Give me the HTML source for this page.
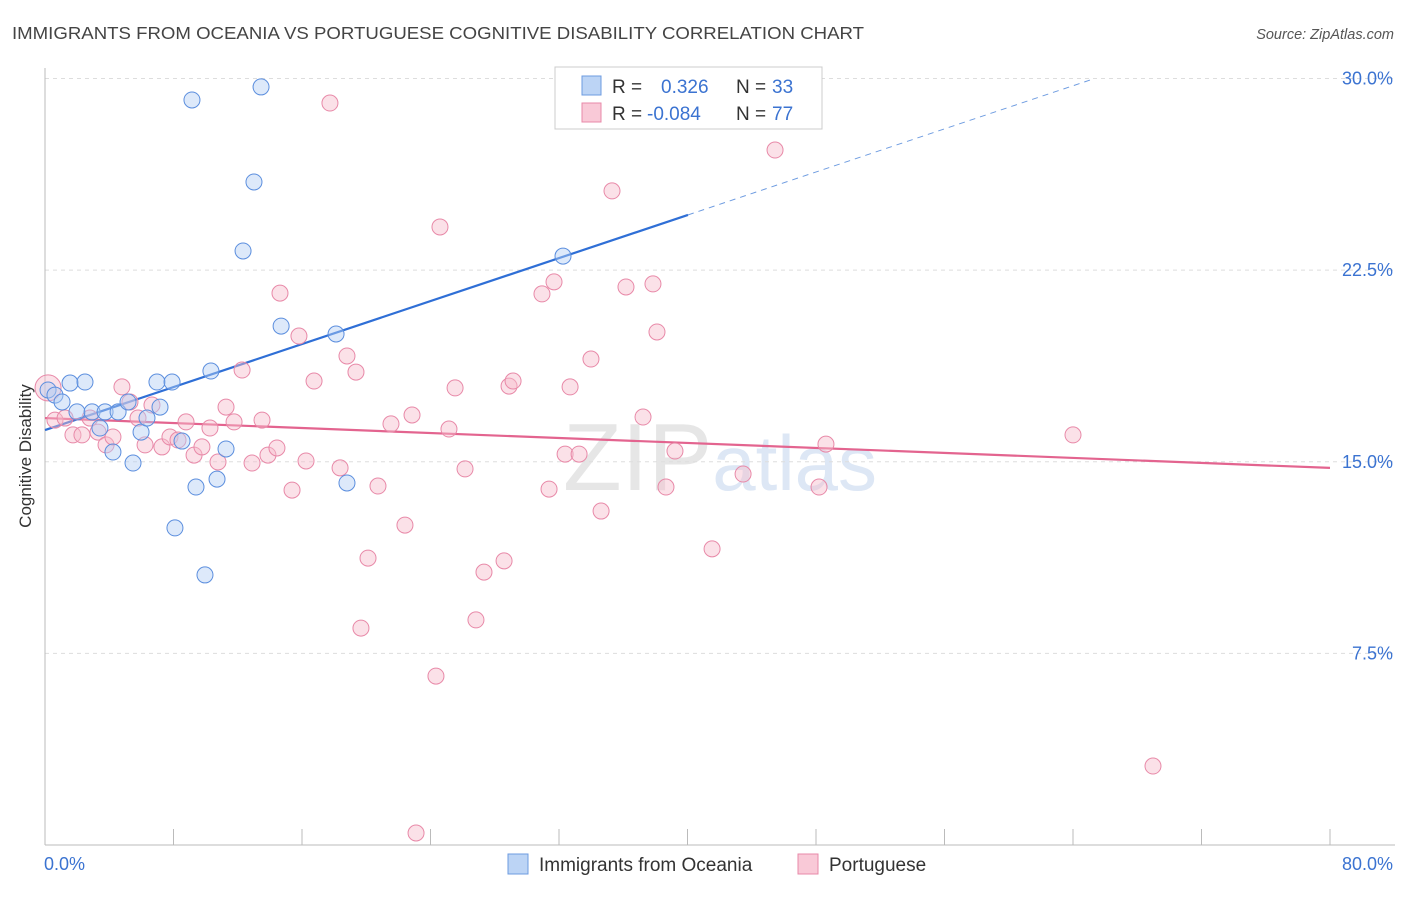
<!DOCTYPE html>
<html><head><meta charset="utf-8"><style>
body{margin:0;background:#fff;font-family:"Liberation Sans",sans-serif;}
svg text{font-family:"Liberation Sans",sans-serif;}
</style></head><body>
<svg id="chart" width="1406" height="892" viewBox="0 0 1406 892" xmlns="http://www.w3.org/2000/svg">
<text x="12" y="39" font-size="17.5" fill="#444" textLength="852" lengthAdjust="spacingAndGlyphs">IMMIGRANTS FROM OCEANIA VS PORTUGUESE COGNITIVE DISABILITY CORRELATION CHART</text>
<text x="1394" y="39" font-size="14.5" fill="#555" text-anchor="end" font-style="italic">Source: ZipAtlas.com</text>
<text x="720" y="490" font-size="96" fill="#e6e6e6" text-anchor="middle" font-family="Liberation Serif"><tspan>ZIP</tspan><tspan fill="#dde7f5" font-family="Liberation Sans" font-size="78">atlas</tspan></text>
<g id="grid"></g>
<g id="axes"></g>
<g id="lines"></g>
<g id="points"></g>
<text transform="translate(31,456) rotate(-90)" font-size="17" fill="#333" text-anchor="middle">Cognitive Disability</text>
<g>
<rect x="555" y="67" width="267" height="62" fill="#fff" stroke="#ccc"/>
<rect x="582" y="76" width="19" height="19" fill="#bcd4f5" stroke="#6d9be0"/>
<rect x="582" y="103" width="19" height="19" fill="#f9c9d7" stroke="#e889a8"/>
<text x="612" y="93" font-size="19" fill="#333">R =</text>
<text x="661" y="93" font-size="19" fill="#3b73d1">0.326</text>
<text x="736" y="93" font-size="19" fill="#333">N =</text>
<text x="772" y="93" font-size="19" fill="#3b73d1">33</text>
<text x="612" y="120" font-size="19" fill="#333">R =</text>
<text x="647" y="120" font-size="19" fill="#3b73d1">-0.084</text>
<text x="736" y="120" font-size="19" fill="#333">N =</text>
<text x="772" y="120" font-size="19" fill="#3b73d1">77</text>
</g>
<g>
<rect x="508" y="854" width="20" height="20" fill="#bcd4f5" stroke="#6d9be0"/>
<text x="539" y="871" font-size="19" fill="#333">Immigrants from Oceania</text>
<rect x="798" y="854" width="20" height="20" fill="#f9c9d7" stroke="#e889a8"/>
<text x="829" y="871" font-size="19" fill="#333">Portuguese</text>
</g>
</svg>
<script>
const yTicks=[7.5,15,22.5,30];
const yTickLabels=["7.5%","15.0%","22.5%","30.0%"];
const xTicks=[0,8,16,24,32,40,48,56,64,72,80];
const xEndLabels=["0.0%","80.0%"];
const blueX=[0.19,0.62,1.06,1.56,2.49,1.99,2.93,3.42,3.74,4.23,4.55,5.48,5.17,5.98,6.35,6.97,7.16,7.91,8.09,8.53,9.15,9.40,9.96,10.33,10.71,11.27,12.33,13.01,13.45,14.70,18.12,18.80,32.25];
const blueY=[17.81,17.61,17.34,18.08,18.12,16.95,16.95,16.32,16.95,15.38,16.95,14.95,17.34,16.16,16.71,18.12,17.14,18.12,12.41,15.81,29.16,14.01,10.57,18.55,14.32,15.5,23.25,25.95,29.67,20.31,20.0,14.17,23.05];
const pinkX=[0.19,0.62,1.25,1.74,2.30,2.80,3.30,3.80,4.23,4.79,5.29,5.79,6.23,6.66,7.28,7.78,8.28,8.78,9.28,9.77,10.27,10.77,11.27,11.77,12.27,12.89,13.51,13.88,14.44,14.63,15.38,15.81,16.25,16.75,17.74,18.37,18.80,19.36,20.11,19.67,20.73,21.54,22.41,22.85,23.10,24.34,24.59,25.15,25.53,26.15,26.83,27.33,28.58,28.89,29.14,30.94,31.38,31.69,32.38,32.69,33.25,33.99,34.62,35.30,36.17,37.23,37.85,38.10,38.66,39.22,41.53,43.46,45.45,48.19,48.62,64.00,68.98];
const pinkY=[17.89,16.63,16.71,16.05,16.05,16.71,16.16,15.66,15.97,17.93,17.34,16.71,15.66,17.22,15.58,15.97,15.85,16.56,15.26,15.58,16.32,14.99,17.14,16.56,18.59,14.95,16.63,15.26,15.54,21.60,13.89,19.92,15.03,18.16,29.04,14.76,19.14,18.51,11.23,8.49,14.05,16.48,12.52,16.83,0.47,6.61,24.19,16.28,17.89,14.72,8.81,10.68,11.12,17.96,18.16,21.57,13.93,22.04,15.30,17.93,15.30,19.02,13.07,25.60,21.84,16.75,21.96,20.08,14.01,15.42,11.59,14.52,27.20,14.01,15.69,16.05,3.09];
const blueTrendX=[0,40.03,65.06];
const blueTrendY=[16.24,24.66,29.94];
const pinkTrendX=[0,80];
const pinkTrendY=[16.71,14.76];

const NS="http://www.w3.org/2000/svg";
const X0=45,X1=1330,Y0=845,YS=25.55;
function sx(v){return X0+v/80*(X1-X0);}
function sy(v){return Y0-v*YS;}
function mk(tag,attrs,parent){const e=document.createElementNS(NS,tag);for(const k in attrs)e.setAttribute(k,attrs[k]);parent.appendChild(e);return e;}
const grid=document.getElementById('grid'),axes=document.getElementById('axes'),lines=document.getElementById('lines'),pts=document.getElementById('points');
yTicks.forEach((t,i)=>{
 const l=mk('line',{x1:X0,x2:1395,y1:sy(t),y2:sy(t),stroke:'#ddd','stroke-dasharray':'4,4'},grid);
 
 
 const tx=mk('text',{x:1393,y:sy(t)+6,'font-size':18,fill:'#3b73d1','text-anchor':'end'},grid);
 tx.textContent=yTickLabels[i];
 
 
});
const ax=mk('line',{x1:X0,x2:X0,y1:68,y2:Y0,stroke:'#bbb'},axes);


const bx=mk('line',{x1:X0,x2:1395,y1:Y0,y2:Y0,stroke:'#bbb'},axes);


xTicks.forEach(t=>{
 const l=mk('line',{x1:sx(t),x2:sx(t),y1:829,y2:Y0,stroke:'#bbb'},axes);
 
 
});
const xl0=mk('text',{x:44,y:870,'font-size':18,fill:'#3b73d1'},axes);xl0.textContent=xEndLabels[0];


const xl1=mk('text',{x:1393,y:870,'font-size':18,fill:'#3b73d1','text-anchor':'end'},axes);xl1.textContent=xEndLabels[1];


function dot(x,y,fill,stroke,name,r){const c=mk('circle',{cx:sx(x),cy:sy(y),r:r||8,fill:fill,'fill-opacity':0.45,stroke:stroke,'stroke-width':1},pts);
 
 }
pinkX.forEach((x,i)=>dot(x,pinkY[i],'#f6bccd','#e889a8','portuguese-point',i==0?13:8));
blueX.forEach((x,i)=>dot(x,blueY[i],'#b3cff3','#5b8ede','oceania-point',8));
const b1=mk('line',{x1:sx(blueTrendX[0]),y1:sy(blueTrendY[0]),x2:sx(blueTrendX[1]),y2:sy(blueTrendY[1]),stroke:'#2f6fd6','stroke-width':2.2},lines);


const b2=mk('line',{x1:sx(blueTrendX[1]),y1:sy(blueTrendY[1]),x2:sx(blueTrendX[2]),y2:sy(blueTrendY[2]),stroke:'#6d9be0','stroke-width':1,'stroke-dasharray':'6,5'},lines);


const p1=mk('line',{x1:sx(pinkTrendX[0]),y1:sy(pinkTrendY[0]),x2:sx(pinkTrendX[1]),y2:sy(pinkTrendY[1]),stroke:'#e3648f','stroke-width':2.2},lines);


</script>
</body></html>
